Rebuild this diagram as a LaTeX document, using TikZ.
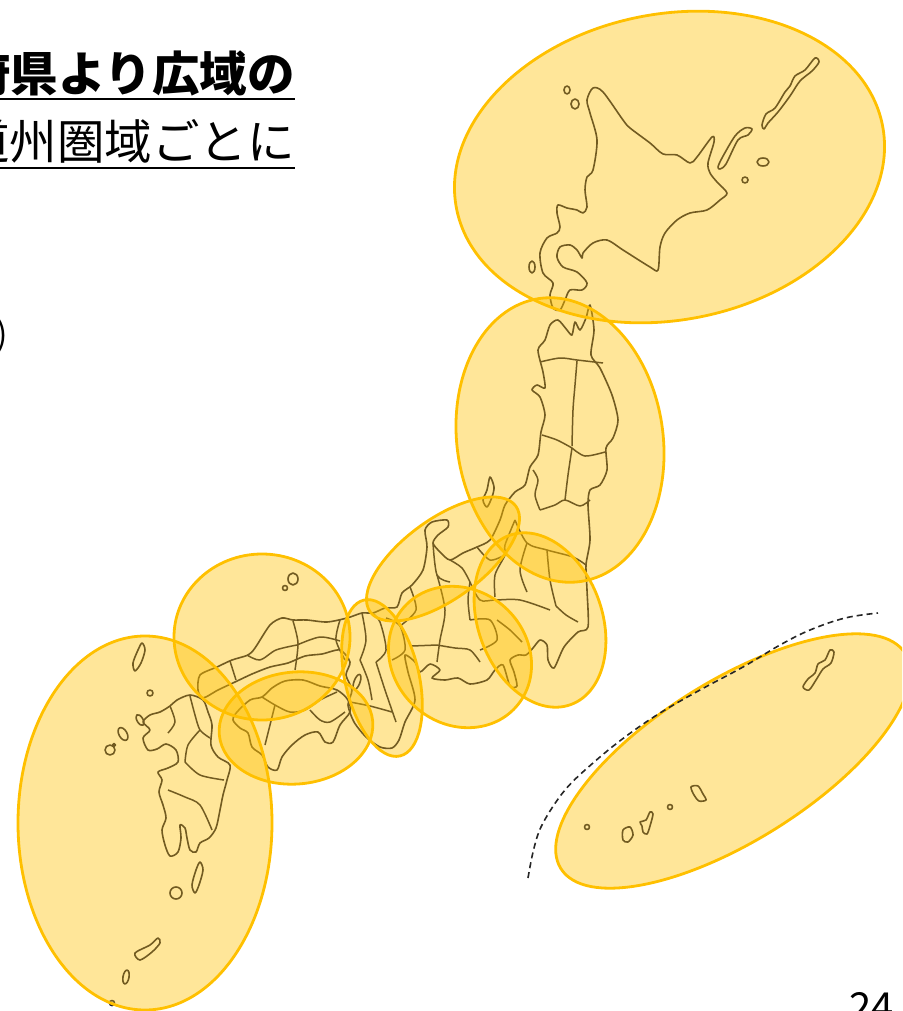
\documentclass[tikz,border=0pt]{standalone}
\usepackage{fontspec}
\newfontfamily\jp{Noto Sans CJK JP}
\usetikzlibrary{shapes.geometric}
\definecolor{gold}{HTML}{FFC000}
\definecolor{mapline}{HTML}{141838}
\begin{document}
\begin{tikzpicture}[x=1pt,y=-1pt,
  region/.style={ellipse, draw=gold, line width=2.8pt, fill=gold, fill opacity=0.4, inner sep=0pt, outer sep=0pt},
  coast/.style={draw=mapline, line width=1.6pt, line join=round},
  border/.style={draw=mapline, line width=1.5pt, line join=round},
  title/.style={font=\jp\fontsize{47.5}{52}\selectfont, anchor=base east, inner sep=0pt},
  uline/.style={line width=2.2pt, black}
]
\useasboundingbox (0,0) rectangle (902,1011);
\clip (0,0) rectangle (902,1011);

% ---------------- map: Hokkaido ----------------
\draw[coast] plot[smooth cycle, tension=0.5] coordinates {
(587,100) (593,88) (603,92) (623,120) (630,128) (650,143) (663,154) (677,155) (690,163) (697,157) (712,137) (714,142) (708,163) (710,173) (717,182) (727,193) (720,200) (707,210) (690,213) (677,220) (665,233) (660,247) (658,270) (650,267) (623,250) (607,240) (593,243) (583,253) (582,258) (577,250) (570,245) (560,247) (557,257) (563,267) (577,272) (587,283) (582,290) (570,290) (565,300) (560,310) (553,308) (550,295) (553,283) (543,273) (540,253) (547,238) (557,233) (560,227) (557,213) (558,205) (567,208) (577,210) (583,213) (587,207) (585,190) (587,177) (593,170) (597,140) (590,113)};
\draw[coast] (567,90) ellipse [x radius=3, y radius=4];
\draw[coast] (575,104) ellipse [x radius=4, y radius=5];
\draw[coast] (532,267) ellipse [x radius=3, y radius=6];
\draw[coast] plot[smooth cycle, tension=0.5] coordinates {(718,167) (722,158) (735,136) (745,128) (752,129) (748,135) (738,140) (726,164) (720,169)};
\draw[coast] plot[smooth cycle, tension=0.5] coordinates {(762,125) (766,114) (775,108) (785,92) (790,86) (795,76) (805,70) (815,58) (819,62) (812,71) (800,81) (790,96) (778,112) (768,123) (764,129)};
\draw[coast] (763,162) ellipse [x radius=6, y radius=4];
\draw[coast] (745,180) circle [radius=3];

% ---------------- map: Honshu ----------------
\draw[coast] plot[smooth cycle, tension=0.45] coordinates {
(590,305) (594,330) (591,355) (600,368) (612,395) (618,420) (613,438) (606,448) (607,470) (600,485) (590,490) (588,505) (590,540) (586,565) (587,590) (588,627) (578,632) (564,647) (554,668) (548,660) (547,645) (540,640) (533,648) (526,655) (518,655) (510,660) (514,672) (517,686) (510,686) (503,665) (495,670) (487,680) (470,684) (458,678) (445,680) (432,678) (440,670) (430,664) (420,672) (415,662) (405,655) (408,672) (415,700) (405,722) (399,740) (392,748) (380,747) (366,737) (354,722) (348,705) (352,690) (346,675) (350,662) (340,650) (322,654) (305,656) (288,663) (270,667) (252,674) (235,682) (218,690) (203,698) (198,690) (200,675) (217,667) (232,660) (248,655) (255,648) (270,625) (282,618) (293,620) (307,620) (327,622) (347,618) (362,613) (373,613) (385,608) (397,607) (402,593) (412,585) (423,570) (427,547) (425,530) (432,522) (447,520) (448,527) (438,535) (433,543) (440,552) (450,560) (463,553) (477,547) (490,540) (500,520) (505,505) (515,492) (525,485) (530,467) (538,455) (541,432) (545,415) (540,397) (532,390) (537,385) (545,388) (543,372) (538,350) (545,340) (550,325) (558,320) (567,330) (572,335) (575,322) (580,330) (586,318)};
% Sado, Oki, Awaji
\draw[coast] plot[smooth cycle, tension=0.5] coordinates {(490,477) (494,487) (492,497) (487,507) (483,500) (487,490)};
\draw[coast] (293,579) ellipse [x radius=5, y radius=6];
\draw[coast] (285,588) circle [radius=2.5];
\draw[coast, rotate around={-20:(357,682)}] (357,682) ellipse [x radius=3, y radius=8];

% Tohoku borders
\draw[border] plot[smooth] coordinates {(540,362) (560,358) (577,360) (603,363)};
\draw[border] plot[smooth] coordinates {(577,361) (575,385) (573,410) (572,446)};
\draw[border] plot[smooth] coordinates {(542,435) (557,440) (572,448)};
\draw[border] plot[smooth] coordinates {(572,448) (585,456) (605,452)};
\draw[border] plot[smooth] coordinates {(572,448) (568,475) (565,500)};
\draw[border] plot[smooth] coordinates {(533,470) (538,480) (535,495) (540,510)};
\draw[border] plot[smooth] coordinates {(540,510) (555,505) (565,500) (580,506) (590,500)};
\draw[border] plot[smooth] coordinates {(515,520) (527,543) (547,550) (573,557) (586,565)};
% Chubu / Kanto borders
\draw[border] plot[smooth] coordinates {(410,587) (416,610) (400,626)};
\draw[border] plot[smooth] coordinates {(433,543) (437,575) (450,582)};
\draw[border] plot[smooth] coordinates {(450,560) (462,568) (470,582)};
\draw[border] plot[smooth] coordinates {(437,575) (445,610) (440,640) (437,662)};
\draw[border] plot[smooth] coordinates {(412,646) (437,645)};
\draw[border] plot[smooth] coordinates {(477,547) (490,560) (505,555)};
\draw[border] plot[smooth] coordinates {(515,520) (505,545) (505,555) (495,575) (495,597)};
\draw[border] plot[smooth] coordinates {(527,543) (520,570) (527,592)};
\draw[border] plot[smooth] coordinates {(547,550) (550,580) (556,606)};
\draw[border] plot[smooth] coordinates {(470,582) (480,600) (495,600) (520,600) (550,610)};
\draw[border] plot[smooth] coordinates {(470,620) (490,620) (497,640) (480,650)};
\draw[border] plot[smooth] coordinates {(437,645) (455,648) (470,650) (480,662)};
\draw[border] plot[smooth] coordinates {(497,620) (510,630) (522,642)};
\draw[border] plot[smooth] coordinates {(556,606) (566,615) (578,622)};
\draw[border] plot[smooth] coordinates {(470,582) (468,600) (470,620)};
% Kinki borders
\draw[border] plot[smooth] coordinates {(362,613) (366,640) (360,660)};
\draw[border] plot[smooth] coordinates {(372,613) (380,622) (386,650) (376,662)};
\draw[border] plot[smooth] coordinates {(360,660) (368,680) (372,700)};
\draw[border] plot[smooth] coordinates {(376,662) (385,690) (396,722)};
\draw[border] plot[smooth] coordinates {(350,702) (370,706) (392,712)};
\draw[border] plot[smooth] coordinates {(386,618) (400,626) (405,650) (392,660)};
% Chugoku borders
\draw[border] plot[smooth] coordinates {(293,621) (298,643) (295,670)};
\draw[border] plot[smooth] coordinates {(247,655) (260,660) (276,650) (297,645)};
\draw[border] plot[smooth] coordinates {(230,661) (236,680)};
\draw[border] plot[smooth] coordinates {(297,645) (320,637) (340,641)};
\draw[border] plot[smooth] coordinates {(340,620) (336,640) (345,660)};

% ---------------- map: Shikoku ----------------
\draw[coast] plot[smooth cycle, tension=0.5] coordinates {
(237,712) (250,700) (262,697) (272,688) (285,681) (303,680) (320,686) (337,690) (348,700) (350,712) (340,725) (333,742) (325,742) (318,732) (305,735) (292,745) (282,757) (277,770) (268,767) (262,755) (252,747) (248,733) (240,728) (233,720)};
\draw[border] plot[smooth] coordinates {(262,697) (275,705) (290,712) (305,710) (320,700) (337,692)};
\draw[border] plot[smooth] coordinates {(275,705) (270,725) (265,745)};
\draw[border] plot[smooth] coordinates {(310,710) (320,720) (330,722) (345,712)};

% ---------------- map: Kyushu ----------------
\draw[coast] plot[smooth cycle, tension=0.5] coordinates {
(177,700) (190,695) (203,700) (208,712) (212,725) (211,745) (218,757) (230,765) (227,780) (223,795) (220,810) (216,828) (209,838) (200,843) (196,852) (190,850) (187,838) (185,828) (180,825) (181,838) (178,852) (170,856) (165,845) (162,830) (166,818) (163,805) (159,792) (162,780) (158,772) (168,768) (178,762) (176,750) (166,744) (157,749) (148,750) (143,738) (150,730) (143,722) (150,715) (160,712) (170,706)};
\draw[border] plot[smooth] coordinates {(190,696) (195,715) (200,730) (210,738)};
\draw[border] plot[smooth] coordinates {(170,706) (175,722) (168,733)};
\draw[border] plot[smooth] coordinates {(200,730) (188,745) (185,762)};
\draw[border] plot[smooth] coordinates {(185,762) (200,775) (224,780)};
\draw[border] plot[smooth] coordinates {(168,790) (185,797) (200,805) (212,830)};
% islands around Kyushu
\draw[coast] plot[smooth cycle, tension=0.5] coordinates {(142,643) (145,650) (141,663) (135,671) (133,663) (138,650)};
\draw[coast] (150,693) circle [radius=3];
\draw[coast, rotate around={30:(140,720)}] (140,720) ellipse [x radius=3, y radius=6];
\draw[coast, rotate around={30:(123,734)}] (123,734) ellipse [x radius=4, y radius=7];
\draw[coast] (110,750) ellipse [x radius=5, y radius=5];
\draw[coast] (114,745) circle [radius=1.5];
\draw[coast] plot[smooth cycle, tension=0.5] coordinates {(200,862) (203,870) (199,885) (195,893) (192,885) (196,870)};
\draw[coast] (176,893) ellipse [x radius=6, y radius=6];
\draw[coast] plot[smooth cycle, tension=0.5] coordinates {(135,953) (150,945) (158,938) (160,943) (152,952) (140,960)};
\draw[coast, rotate around={-10:(126,977)}] (126,977) ellipse [x radius=3, y radius=7];
\draw[coast] (112,1003) circle [radius=2.5];

% ---------------- map: Okinawa ----------------
\draw[coast] plot[smooth cycle, tension=0.5] coordinates {(803,687) (808,679) (815,673) (818,664) (825,660) (830,650) (834,652) (831,663) (823,669) (816,680) (809,690)};
\draw[coast] plot[smooth cycle, tension=0.5] coordinates {(691,787) (698,786) (703,794) (706,800) (699,801) (694,795)};
\draw[coast] (670,807) circle [radius=2.5];
\draw[coast] plot[smooth cycle, tension=0.5] coordinates {(640,822) (646,820) (650,812) (653,814) (650,826) (647,834) (643,832) (642,826)};
\draw[coast] plot[smooth cycle, tension=0.5] coordinates {(623,830) (630,827) (633,835) (628,842) (623,840)};
\draw[coast] (587,827) circle [radius=2.5];

% ---------------- regions ----------------
\node[region, minimum width=434pt, minimum height=306pt, rotate=11] (hokkaido) at (669.5,167) {};
\node[region, minimum width=206pt, minimum height=286pt, rotate=8.4] (tohoku) at (560,440) {};
\node[region, minimum width=180pt, minimum height=80pt, rotate=36] (hokuriku) at (443,559) {};
\node[region, minimum width=124pt, minimum height=180pt, rotate=20] (kanto) at (540,620) {};
\node[region, minimum width=150pt, minimum height=134pt, rotate=-42] (tokai) at (460,657) {};
\node[region, minimum width=74pt, minimum height=160pt, rotate=13] (kinki) at (382,678) {};
\node[region, minimum width=176pt, minimum height=166pt] (chugoku) at (262,637) {};
\node[region, minimum width=154pt, minimum height=112pt, rotate=5] (shikoku) at (296,728) {};
\node[region, minimum width=254pt, minimum height=374pt] (kyushu) at (145,823) {};
\node[region, minimum width=406pt, minimum height=160pt, rotate=32] (okinawa) at (733,761) {};

% dashed boundary
\draw[black!85, line width=1.6pt, dash pattern=on 6pt off 4pt] plot[smooth, tension=0.6] coordinates {(528,878) (534,848) (543,823) (565,790) (593,763) (625,737) (660,713) (700,690) (743,667) (780,645) (810,630) (845,618) (878,613)};

% ---------------- texts ----------------
\node[title, font=\jp\bfseries\fontsize{47.5}{52}\selectfont] (t1) at (295,91.5) {府県より広域の};
\draw[uline, line width=2.6pt] ([yshift=-7.5pt]t1.base west) -- ([yshift=-7.5pt]t1.base east);
\node[title] (t2) at (295,159.5) {道州圏域ごとに};
\draw[uline] ([yshift=-8.5pt]t2.base west) -- ([yshift=-8.5pt]t2.base east);
\node[font=\jp\fontsize{34}{38}\selectfont, anchor=base east, inner sep=0pt] (paren) at (8,346) {)};
\node[font=\jp\fontsize{40}{44}\selectfont, anchor=base west, inner sep=0pt] (page) at (849,1021) {24};
\end{tikzpicture}
\end{document}
